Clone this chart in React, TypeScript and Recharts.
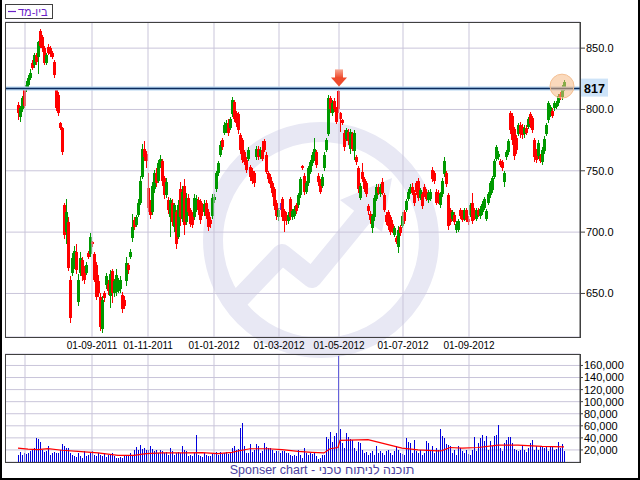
import React from 'react';
import {
  ComposedChart,
  Bar,
  Line,
  XAxis,
  YAxis,
  CartesianGrid,
  ReferenceLine,
  ReferenceDot,
} from 'recharts';

// daily candles (index = trading day)
const opens = [
  804, 794, 800, 816, 816, 820, 826, 838, 836, 844, 843, 864, 859, 850, 838, 851, 850, 846, 839, 817,
  812, 789, 785, 722, 700, 708, 661, 667, 672, 684, 643, 667, 677, 670, 667, 683, 682, 692, 682, 673,
  660, 647, 621, 650, 657, 658, 648, 668, 650, 651, 652, 654, 649, 645, 660, 673, 680, 695, 710, 706,
  714, 724, 745, 768, 764, 736, 722, 716, 735, 748, 742, 754, 758, 744, 730, 726, 712, 724, 704, 716,
  696, 735, 711, 738, 708, 728, 718, 712, 712, 720, 726, 725, 722, 716, 724, 716, 710, 713, 726, 735,
  748, 763, 775, 781, 783, 789, 785, 796, 806, 797, 796, 779, 775, 765, 759, 760, 753, 750, 748, 761,
  768, 762, 767, 774, 763, 748, 745, 740, 735, 724, 712, 720, 727, 717, 713, 709, 727, 712, 713, 722,
  722, 730, 754, 746, 733, 740, 749, 756, 760, 765, 746, 741, 738, 752, 767, 780, 809, 797, 807, 800,
  815, 797, 791, 781, 776, 782, 768, 780, 766, 761, 752, 728, 749, 743, 740, 721, 715, 703, 712, 727,
  737, 731, 741, 730, 714, 716, 712, 707, 698, 695, 688, 704, 705, 716, 718, 727, 733, 737, 732, 740,
  742, 728, 731, 737, 733, 726, 727, 751, 748, 733, 732, 722, 731, 747, 748, 730, 718, 711, 714, 702,
  702, 718, 716, 711, 718, 711, 714, 724, 718, 711, 718, 713, 716, 720, 711, 724, 730, 734, 745, 760,
  761, 758, 757, 741, 761, 765, 797, 795, 784, 777, 780, 787, 786, 780, 785, 786, 796, 793, 775, 766,
  762, 762, 757, 766, 780, 791, 797, 799, 801, 802, 805, 813, 810, 817,
];
const highs = [
  806, 803, 811, 818, 823, 828, 833, 840, 846, 846, 856, 866, 861, 852, 846, 853, 852, 848, 840, 818,
  814, 790, 786, 724, 727, 712, 664, 683, 689, 690, 666, 684, 680, 672, 676, 685, 699, 693, 684, 676,
  665, 650, 648, 652, 667, 661, 669, 670, 662, 670, 663, 664, 651, 648, 680, 675, 686, 715, 712, 714,
  727, 746, 772, 774, 766, 748, 726, 741, 751, 752, 759, 763, 760, 746, 744, 729, 728, 727, 724, 718,
  726, 741, 738, 743, 732, 731, 720, 716, 731, 730, 729, 727, 724, 726, 726, 719, 712, 731, 731, 750,
  758, 774, 777, 790, 791, 792, 794, 810, 808, 799, 798, 781, 777, 767, 761, 769, 755, 752, 750, 770,
  770, 769, 774, 776, 765, 750, 747, 742, 737, 726, 720, 724, 729, 719, 716, 716, 729, 719, 721, 724,
  732, 745, 755, 748, 742, 754, 759, 765, 777, 767, 748, 743, 747, 765, 777, 812, 811, 808, 809, 802,
  818, 798, 792, 783, 785, 784, 784, 782, 783, 763, 754, 740, 756, 745, 742, 723, 717, 715, 730, 739,
  739, 739, 744, 732, 716, 718, 714, 710, 705, 697, 705, 706, 716, 718, 727, 735, 739, 740, 734, 742,
  744, 736, 733, 739, 735, 734, 735, 753, 750, 735, 734, 733, 744, 761, 750, 732, 720, 718, 716, 709,
  711, 720, 718, 720, 720, 713, 724, 732, 720, 720, 720, 721, 725, 729, 719, 733, 742, 746, 760, 771,
  766, 760, 759, 750, 767, 776, 799, 797, 786, 779, 789, 790, 788, 787, 787, 794, 798, 795, 777, 768,
  775, 764, 769, 778, 789, 807, 804, 801, 807, 807, 813, 814, 820, 824,
];
const lows = [
  791, 790, 798, 801, 814, 818, 824, 832, 834, 836, 829, 850, 847, 836, 836, 844, 843, 841, 826, 799,
  795, 783, 763, 694, 690, 668, 626, 664, 670, 666, 640, 664, 660, 658, 665, 678, 680, 688, 659, 645,
  647, 619, 618, 643, 654, 649, 638, 642, 647, 648, 650, 650, 634, 637, 656, 666, 678, 692, 702, 704,
  712, 722, 743, 758, 752, 716, 711, 714, 732, 737, 740, 752, 738, 727, 728, 715, 696, 705, 700, 686,
  694, 705, 708, 698, 706, 713, 704, 703, 710, 716, 714, 707, 713, 713, 711, 701, 703, 711, 724, 733,
  746, 761, 767, 779, 781, 778, 783, 794, 790, 786, 780, 764, 756, 755, 748, 758, 742, 739, 737, 759,
  759, 760, 758, 765, 747, 740, 736, 729, 718, 710, 709, 718, 709, 700, 706, 707, 710, 710, 711, 715,
  720, 728, 751, 730, 731, 738, 747, 754, 758, 752, 738, 731, 736, 750, 765, 778, 797, 795, 798, 788,
  797, 782, 787, 766, 774, 771, 764, 766, 759, 755, 732, 726, 741, 733, 729, 714, 707, 699, 709, 725,
  730, 729, 730, 716, 706, 702, 698, 699, 696, 690, 683, 697, 703, 707, 716, 725, 731, 730, 721, 730,
  725, 726, 719, 729, 725, 724, 725, 741, 739, 722, 723, 720, 729, 745, 737, 702, 706, 709, 706, 699,
  700, 711, 708, 709, 708, 706, 712, 707, 710, 709, 712, 711, 714, 718, 709, 722, 728, 732, 743, 758,
  759, 753, 750, 737, 759, 763, 780, 771, 759, 764, 778, 777, 776, 777, 779, 784, 785, 781, 757, 756,
  760, 756, 755, 764, 778, 789, 794, 793, 799, 800, 803, 808, 808, 815,
];
const closes = [
  797, 801, 809, 803, 820, 826, 830, 834, 844, 839, 855, 852, 850, 838, 844, 846, 845, 843, 828, 801,
  797, 785, 765, 698, 716, 671, 630, 679, 685, 669, 661, 679, 664, 661, 673, 680, 696, 690, 661, 647,
  650, 623, 645, 646, 664, 652, 666, 650, 660, 665, 660, 661, 637, 640, 675, 669, 684, 704, 704, 712,
  724, 742, 768, 761, 758, 720, 714, 738, 748, 740, 756, 760, 742, 730, 741, 718, 726, 708, 722, 690,
  722, 712, 733, 706, 728, 716, 707, 706, 728, 727, 718, 710, 716, 723, 713, 704, 707, 728, 729, 748,
  756, 771, 769, 787, 789, 781, 792, 808, 792, 789, 783, 767, 759, 757, 751, 767, 745, 742, 740, 768,
  761, 767, 760, 767, 749, 743, 739, 732, 721, 713, 718, 720, 712, 709, 709, 714, 712, 717, 719, 717,
  730, 743, 752, 733, 740, 752, 757, 763, 768, 755, 741, 733, 745, 763, 775, 809, 800, 805, 800, 790,
  800, 792, 789, 769, 783, 774, 782, 768, 781, 757, 735, 738, 743, 735, 731, 717, 710, 713, 728, 737,
  732, 737, 732, 718, 708, 705, 700, 701, 703, 692, 702, 699, 713, 709, 725, 733, 737, 732, 724, 733,
  728, 734, 721, 731, 727, 732, 733, 743, 742, 724, 726, 731, 742, 758, 739, 705, 708, 716, 708, 707,
  709, 713, 710, 718, 710, 708, 722, 709, 712, 718, 714, 719, 723, 727, 717, 731, 740, 744, 758, 769,
  764, 755, 752, 748, 765, 774, 783, 775, 762, 767, 787, 780, 779, 785, 781, 792, 788, 783, 761, 759,
  773, 758, 767, 776, 787, 805, 802, 795, 805, 805, 811, 810, 818, 822,
];
// volume in thousands
const volumes = [
  12, 17, 12, 15, 13, 15, 19, 20.5, 23, 40, 38, 33, 20, 16, 19, 26, 12, 15, 16, 15,
  15, 20.5, 30.5, 27, 23, 24, 15, 12, 9.4, 8.3, 15, 9.4, 6.7, 17.8, 9.4, 12, 15, 17.8, 12, 9.4,
  15, 12, 10.5, 15, 8.3, 12, 13.9, 15, 9.4, 6.7, 6.7, 8.3, 6.7, 9.4, 12, 10.5, 15, 12, 19.4, 25,
  20.5, 29, 21.6, 23, 20.5, 20.5, 26, 21.6, 17.8, 20.5, 15, 20.5, 17.8, 15, 16, 12, 23, 17.8, 12, 15,
  16, 15, 26, 20.5, 17.8, 9.4, 12, 10.5, 15, 44, 12, 9.4, 8.3, 15, 12, 9.4, 10.5, 13.9, 15, 16,
  12, 16, 13.9, 15, 16, 13.9, 15, 23, 27, 20.5, 22, 57, 64, 27, 15, 15, 30, 16, 19.4, 30,
  27, 15, 17.8, 31.6, 25, 23, 23, 20.5, 15, 19, 19, 15, 17.8, 17.8, 15, 15, 12, 9.4, 12, 9.4,
  20.5, 12, 6.7, 23, 15, 12, 15, 13.3, 16, 9.4, 5, 6.7, 12, 12, 42, 38, 50, 33, 43, 48,
  175, 55, 32, 23, 48, 42, 38, 37, 23, 19, 33, 32, 20.5, 15, 16, 12, 15, 17.8, 12, 26,
  15, 17.8, 15, 12, 17.8, 20.5, 15, 12, 17.8, 27, 20.5, 15, 13.9, 12, 40, 33, 32, 15, 36, 17.8,
  15, 20.5, 12, 15, 34, 32, 20.5, 27, 15, 23, 20.5, 55, 43, 40, 30.5, 29, 26, 15, 20.5, 12,
  27, 23, 17.8, 15, 20.5, 13.9, 12, 20.5, 42, 17.8, 31.6, 40, 44, 34, 43, 20.5, 34, 26, 43, 45.5,
  62, 23, 17.8, 31.6, 37, 41.6, 41.6, 31.6, 21.6, 20.5, 17.8, 20.5, 26, 20.5, 16, 23, 31.6, 37, 20.5, 26,
  19.4, 26, 26, 23, 26, 17.8, 27, 25, 20.5, 21.6, 32.7, 23, 30.5, 17.8,
];
// red volume average line, read at a few points (thousands)
const maIdx = [0, 5, 10, 15, 22, 30, 40, 50, 58, 64, 72, 84, 92, 100, 107, 111, 116, 125, 132, 140, 147, 153, 156, 160, 161, 175, 180, 186, 192, 200, 210, 212, 216, 222, 230, 240, 250, 262, 273];
const maVals = [23, 21.5, 20.5, 22, 19.5, 17.5, 15, 11, 11, 14, 15, 15, 15.5, 14, 16, 19, 22, 22, 20.5, 17.5, 16, 15, 22, 24, 36, 37, 33, 28, 23, 20, 18.5, 19, 24, 23, 24, 28, 28, 26, 25];

const tickIdx = [3.5, 37, 65, 98, 130.5, 160.5, 192.5, 225.5];
const tickLabels = ['01-07-2011', '01-09-2011', '01-11-2011', '01-01-2012', '01-03-2012', '01-05-2012', '01-07-2012', '01-09-2012'];
const priceTicks = [650, 700, 750, 800, 850];
const volTicks = [20, 40, 60, 80, 100, 120, 140, 160];

const levelPrice = 817;
const peakIdx = 160;
const peakPrice = 818;
const lastIdx = 272;
const lastPrice = 819;

const FONT = "'Liberation Sans', Arial, sans-serif";
const GRID = '#c9c5da';
const BORDER = '#404040';
const X_DOMAIN = [-6.5, 281];

const candles = opens.map((o, i) => ({
  i,
  o,
  h: highs[i],
  l: lows[i],
  c: closes[i],
  range: [lows[i], highs[i]],
  vol: volumes[i],
}));
const maData = maIdx.map((i, k) => ({ i, ma: maVals[k] }));

const Candle = (props: any) => {
  const { x, y, width, height } = props;
  const p = props.payload || props;
  const cx = Math.round(x + width / 2);
  const top = Math.min(y, y + height);
  const span = Math.abs(height);
  const py = (v: number) => (p.h === p.l ? top : top + ((p.h - v) / (p.h - p.l)) * span);
  const color = p.c > p.o ? '#009900' : p.c < p.o ? '#ff0000' : '#6633cc';
  const bTop = py(Math.max(p.o, p.c));
  const bBot = py(Math.min(p.o, p.c));
  return (
    <g shapeRendering="crispEdges">
      <rect x={cx} y={top} width={1} height={Math.max(span, 1)} fill={color} />
      <rect x={cx - 1} y={bTop} width={3} height={Math.max(bBot - bTop, 1.5)} fill={color} />
    </g>
  );
};

const VolBar = (props: any) => {
  const { x, y, width, height } = props;
  const cx = Math.round(x + width / 2);
  return <rect x={cx} y={y} width={1} height={Math.max(height, 0)} fill="#0000dd" shapeRendering="crispEdges" />;
};

const DateTick = (props: any) => {
  const { x, y, payload } = props;
  const k = tickIdx.indexOf(payload.value);
  // the first month line carries no label in the original
  if (k <= 0) return <g />;
  return (
    <text x={x} y={y} dy="0.71em" textAnchor="middle" fontSize={10} fontFamily={FONT} fill="#000">
      {tickLabels[k]}
    </text>
  );
};

const Arrow = (props: any) => {
  const { cx, cy } = props;
  const c = cx + 1;
  return (
    <g>
      <defs>
        <linearGradient id="arrowFill" x1="0" y1="0" x2="0" y2="1">
          <stop offset="0" stopColor="#f8a894" />
          <stop offset="1" stopColor="#ee4424" />
        </linearGradient>
      </defs>
      <rect x={c - 4} y={cy - 18} width={8} height={9} fill="url(#arrowFill)" />
      <path d={`M${c - 8},${cy - 10} L${c + 8},${cy - 10} L${c},${cy - 1} Z`} fill="#ee4a2c" />
    </g>
  );
};

const LevelTag = (props: any) => {
  const vb = props.viewBox || {};
  const x = vb.x + vb.width;
  const y = vb.y;
  return (
    <g>
      <rect x={x + 1} y={y - 10} width={27} height={18} fill="#cde3f8" />
      <text x={x + 4} y={y + 4.5} fontSize={12.5} fontWeight="bold" fontFamily={FONT} fill="#000">
        {String(levelPrice)}
      </text>
    </g>
  );
};

export default function App() {
  return (
    <div style={{ position: 'fixed', left: 0, top: 0, width: 640, height: 480, background: '#fff', overflow: 'hidden' }}>
      <svg width={640} height={480} style={{ position: 'absolute', left: 0, top: 0 }}>
        <g fill="none" stroke="#e8e8f4">
          <circle cx={321} cy={240} r={108} strokeWidth={20} />
          <polyline points="240,298 282,254 312,278 366,212" strokeWidth={20} strokeLinejoin="round" />
        </g>
        <path d="M392,178 L382,232 L340,200 Z" fill="#e8e8f4" />
      </svg>

      <div style={{ position: 'absolute', left: 0, top: 0 }}>
        <ComposedChart width={640} height={355} data={candles} margin={{ top: 22, right: 0, bottom: 0, left: 5 }}>
          <CartesianGrid vertical={false} stroke={GRID} />
          <XAxis
            type="number"
            dataKey="i"
            domain={X_DOMAIN}
            ticks={tickIdx}
            interval={0}
            allowDataOverflow
            height={18}
            axisLine={false}
            tickLine={false}
            tickSize={0}
            tickMargin={5}
            tick={<DateTick />}
          />
          <YAxis
            orientation="right"
            width={60}
            domain={[614.5, 871.3]}
            ticks={priceTicks}
            interval={0}
            allowDataOverflow
            tickFormatter={(v: number) => v.toFixed(1)}
            tick={{ fill: '#000', fontSize: 11, fontFamily: FONT }}
            tickSize={5}
            tickMargin={1}
            tickLine={{ stroke: BORDER }}
            axisLine={{ stroke: BORDER }}
          />
          {tickIdx.map((t) => (
            <ReferenceLine key={t} x={t} stroke={GRID} />
          ))}
          <ReferenceDot x={lastIdx} y={lastPrice} r={12} fill="#f6b985" fillOpacity={0.55} stroke="#f4bf92" strokeWidth={1} />
          <ReferenceLine y={levelPrice} stroke="#b4d4f0" strokeWidth={4} />
          <ReferenceLine y={levelPrice} stroke="#0a2a5c" strokeWidth={1.5} label={<LevelTag />} />
          <Bar dataKey="range" barSize={2} shape={<Candle />} isAnimationActive={false} />
          <ReferenceDot x={peakIdx} y={peakPrice} r={1} shape={<Arrow />} />
        </ComposedChart>
      </div>

      <div style={{ position: 'absolute', left: 0, top: 340 }}>
        <ComposedChart width={640} height={140} data={candles} margin={{ top: 14, right: 0, bottom: 18, left: 5 }}>
          <CartesianGrid vertical={false} stroke={GRID} />
          <XAxis type="number" dataKey="i" domain={X_DOMAIN} allowDataOverflow hide />
          <YAxis
            orientation="right"
            width={60}
            domain={[0, 179]}
            ticks={volTicks}
            interval={0}
            allowDataOverflow
            tickFormatter={(v: number) => (v * 1000).toLocaleString('en-US')}
            tick={{ fill: '#000', fontSize: 11, fontFamily: FONT }}
            tickSize={3}
            tickMargin={1}
            tickLine={{ stroke: BORDER }}
            axisLine={{ stroke: BORDER }}
          />
          {tickIdx.map((t) => (
            <ReferenceLine key={t} x={t} stroke={GRID} />
          ))}
          <Bar dataKey="vol" barSize={2} shape={<VolBar />} isAnimationActive={false} />
          <Line data={maData} dataKey="ma" type="linear" stroke="#ff0000" strokeWidth={1.2} dot={false} isAnimationActive={false} />
        </ComposedChart>
      </div>

      <svg width={640} height={480} style={{ position: 'absolute', left: 0, top: 0, pointerEvents: 'none' }}>
        <g shapeRendering="crispEdges">
          <rect x={0} y={0} width={2} height={480} fill="#000" />
          <rect x={638} y={0} width={2} height={480} fill="#000" />
          <rect x={0} y={478} width={640} height={2} fill="#000" />
          <rect x={5.5} y={22.5} width={574.5} height={314.5} fill="none" stroke={BORDER} />
          <rect x={5.5} y={354.5} width={574.5} height={107.5} fill="none" stroke={BORDER} />
          <rect x={5.5} y={4.5} width={47} height={14} fill="#fff" stroke={BORDER} />
        </g>
        <line x1={8} y1={11.5} x2={16} y2={11.5} stroke="#6a22c8" strokeWidth={1.2} />
        <text x={18} y={15.5} fontSize={11} fontFamily={FONT} fill="#6a22c8">
          ביו-מד
        </text>
        <text x={322} y={474} textAnchor="middle" fontSize={12.5} fontFamily={FONT} fill="#4c3fa0">
          Sponser chart - תוכנה לניתוח טכני
        </text>
      </svg>
    </div>
  );
}
